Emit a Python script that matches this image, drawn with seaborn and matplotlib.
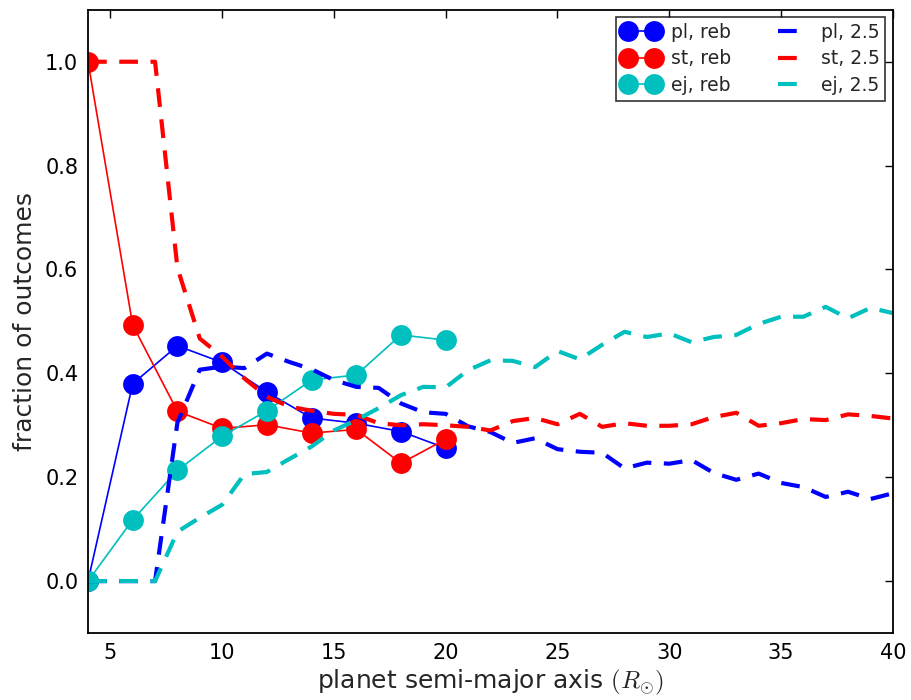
import numpy as np
import pandas as pd
import matplotlib
matplotlib.use("Agg")
import matplotlib.pyplot as plt
import seaborn as sns

# ---- data ----
a_reb = [4, 6, 8, 10, 12, 14, 16, 18, 20]
pl_reb = [0.0, 0.38, 0.453, 0.421, 0.364, 0.314, 0.304, 0.288, 0.256]
st_reb = [1.0, 0.493, 0.327, 0.294, 0.301, 0.285, 0.292, 0.227, 0.273]
ej_reb = [0.0, 0.118, 0.213, 0.279, 0.328, 0.387, 0.397, 0.474, 0.464]

a_25 = list(range(4, 41))
pl_25 = [0.0, 0.0, 0.0, 0.0, 0.305, 0.407, 0.413, 0.41, 0.438, 0.422,
         0.408, 0.387, 0.374, 0.372, 0.342, 0.325, 0.322, 0.298, 0.287, 0.266,
         0.275, 0.254, 0.249, 0.247, 0.217, 0.228, 0.226, 0.233, 0.208, 0.195,
         0.207, 0.189, 0.181, 0.162, 0.172, 0.158, 0.169]
st_25 = [1.0, 1.0, 1.0, 1.0, 0.603, 0.467, 0.432, 0.39, 0.355, 0.336,
         0.328, 0.322, 0.32, 0.304, 0.30, 0.302, 0.30, 0.297, 0.29, 0.308,
         0.314, 0.302, 0.322, 0.297, 0.304, 0.299, 0.299, 0.302, 0.316, 0.324,
         0.299, 0.304, 0.312, 0.31, 0.321, 0.318, 0.313]
ej_25 = [0.0, 0.0, 0.0, 0.0, 0.095, 0.122, 0.147, 0.206, 0.21, 0.235,
         0.259, 0.29, 0.31, 0.333, 0.358, 0.374, 0.373, 0.406, 0.425, 0.424,
         0.412, 0.443, 0.427, 0.455, 0.48, 0.47, 0.477, 0.46, 0.47, 0.474,
         0.495, 0.509, 0.509, 0.528, 0.506, 0.526, 0.516]

labels_reb = ["pl, reb", "st, reb", "ej, reb"]
labels_25 = ["pl, 2.5", "st, 2.5", "ej, 2.5"]
colors = ["#0000ff", "#ff0000", "#00bfbf"]

sns.set_style("white")
plt.rcParams["font.family"] = ["DejaVu Sans"]
plt.rcParams["mathtext.fontset"] = "cm"

fig = plt.figure(figsize=(9.11, 7.0), dpi=100)
ax = fig.add_axes([0.0966, 0.0957, 0.8834, 0.8903])

for ys, lab, c in zip([pl_reb, st_reb, ej_reb], labels_reb, colors):
    sns.lineplot(x=a_reb, y=ys, ax=ax, color=c, label=lab, marker="o",
                 markersize=15, markeredgewidth=0, linewidth=1.2)

for ys, lab, c in zip([pl_25, st_25, ej_25], labels_25, colors):
    sns.lineplot(x=a_25, y=ys, ax=ax, color=c, label=lab, linewidth=3)
    ax.lines[-1].set_dashes((4.5, 3.0))

ax.set_xlim(4, 40)
ax.set_ylim(-0.1, 1.1)
ax.set_xticks([5, 10, 15, 20, 25, 30, 35, 40])
ax.set_yticks([0.0, 0.2, 0.4, 0.6, 0.8, 1.0])
ax.set_yticklabels(["0.0", "0.2", "0.4", "0.6", "0.8", "1.0"])
ax.tick_params(direction="in", length=6, width=1, top=True, right=True,
               labelsize=15, pad=7, colors="black")
for s in ax.spines.values():
    s.set_linewidth(1.3)
    s.set_color("black")

ax.set_xlabel(r"planet semi-major axis $(R_{\odot})$", fontsize=18, labelpad=4)
ax.set_ylabel("fraction of outcomes", fontsize=18, labelpad=6)

handles, labs = ax.get_legend_handles_labels()
leg = ax.legend(handles, labs, ncol=2, loc="upper right", fontsize=13.5,
                numpoints=2, handlelength=2.0, handletextpad=0.6,
                columnspacing=2.2, labelspacing=0.4, borderaxespad=0.4,
                frameon=True, fancybox=False, borderpad=0.3)
leg.get_frame().set_edgecolor("black")
leg.get_frame().set_linewidth(1.2)

fig.savefig("out.png", dpi=100)
